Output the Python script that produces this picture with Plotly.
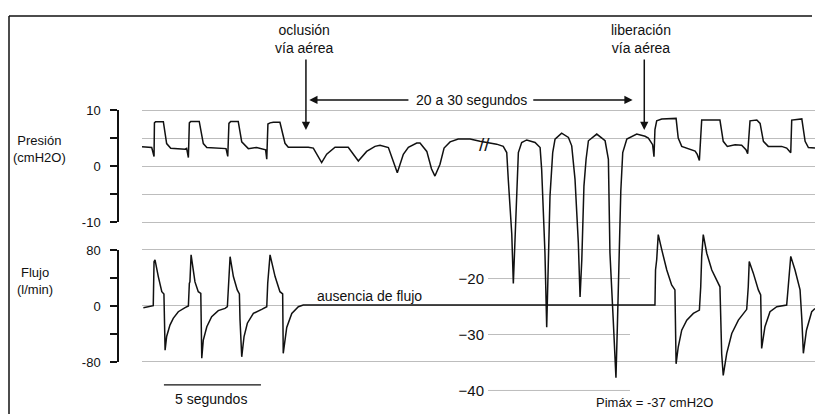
import plotly.graph_objects as go

W, H = 815, 414

# ---------------- data (time in s, pressure in cmH2O, flow in l/min) ----------------
PRES_T = [0.00, 0.50, 0.62, 0.64, 0.70, 1.10, 1.27, 1.48,
          2.22, 2.30, 2.39, 2.44, 2.51, 2.95, 3.16, 3.34,
          4.33, 4.42, 4.48, 4.57, 4.96, 5.14, 5.48, 5.91,
          6.37, 6.43, 6.49, 6.60, 6.77, 7.11, 7.37, 7.54,
          8.57, 8.83, 9.26, 9.52, 9.95,
          10.63, 11.15, 11.58, 12.01, 12.27,
          12.70, 12.94, 13.16, 13.47, 13.73,
          14.16, 14.33, 14.68, 14.92, 15.10,
          15.36, 15.57, 15.88, 16.30, 16.91,
          17.42, 17.85, 18.28, 18.62,
          18.80, 18.88, 18.97, 19.06, 19.14, 19.23, 19.32, 19.40,
          19.57, 19.83, 20.26, 20.52,
          20.60, 20.69, 20.77, 20.86, 20.94, 21.03, 21.17,
          21.29, 21.63, 21.98, 22.15,
          22.32, 22.49, 22.58, 22.67, 22.78, 22.89,
          23.01, 23.44, 23.87, 24.04,
          24.12, 24.29, 24.43, 24.50, 24.60, 24.68, 24.78,
          24.99, 25.50, 25.93, 26.10, 26.32, 26.39,
          26.44, 26.53, 26.79, 27.53,
          27.64, 27.82, 28.16, 28.51, 28.62, 28.73,
          28.85, 29.79, 29.96, 30.17, 30.57, 30.91, 31.13, 31.22,
          31.34, 31.69, 31.86, 32.03, 32.28, 32.97, 33.23, 33.44,
          33.49, 34.01, 34.18, 34.35, 34.69]
PRES_V = [3.45, 3.3, 1.7, 7.7, 7.9, 7.9, 4.0, 3.15,
          3.0, 3.15, 1.5, 7.7, 7.95, 7.95, 4.0, 3.3,
          3.1, 1.7, 7.6, 7.95, 7.95, 4.3, 3.1, 3.3,
          2.9, 1.2, 7.5, 7.7, 7.8, 7.8, 4.05, 3.35,
          3.35, 3.2, 0.6, 2.1, 3.35,
          3.35, 0.9, 2.6, 3.5, 3.7,
          3.3, 1.0, -1.2, 2.1, 3.35,
          4.1, 4.1, 2.6, -0.5, -1.8,
          0.3, 3.2, 4.3, 4.8, 4.8,
          4.4, 4.1, 3.9, 3.5,
          2.4, -2.4, -6.6, -12.2, -21.0, -12.5, -6.5, 2.4,
          4.2, 4.65, 4.2, 3.3,
          -0.6, -8.4, -15.5, -28.8, -15.5, -5.4, 2.4,
          4.8, 5.85, 5.1, 3.6,
          -2.4, -13.7, -23.4, -16.7, -3.6, 1.2,
          4.5, 5.7, 4.5, 1.2,
          -15.5, -27.5, -37.8, -29.0, -16.5, -4.5, 2.4,
          4.8, 5.7, 5.3, 5.0, 3.8, 1.65,
          6.5, 8.06, 8.4, 8.5,
          5.0, 3.5, 3.06, 2.65, 2.06, 1.0,
          8.2, 8.2, 4.4, 3.5, 3.8, 3.7, 2.9, 2.2,
          8.06, 8.2, 7.6, 4.4, 3.5, 3.5, 3.2, 2.35,
          8.2, 8.4, 4.4, 3.3, 3.2]

FLOW_T = [0.07, 0.41, 0.58, 0.62, 0.67, 0.84, 1.02, 1.13, 1.16, 1.19,
          1.27, 1.44, 1.61, 1.87, 2.22, 2.39, 2.44, 2.47, 2.53, 2.73,
          2.90, 3.03, 3.08, 3.16, 3.34, 3.59, 3.93, 4.28, 4.40, 4.45,
          4.54, 4.71, 4.91, 5.02, 5.05, 5.14, 5.26, 5.43, 5.74, 6.17,
          6.43, 6.48, 6.60, 6.86, 7.11, 7.25, 7.28, 7.46, 7.72, 8.06,
          8.31, 26.44, 26.47, 26.53, 26.61, 26.79, 27.05, 27.30, 27.47, 27.53,
          27.64, 27.82, 28.08, 28.42, 28.73, 28.80, 28.85, 28.93, 29.11, 29.37,
          29.71, 29.79, 29.88, 29.96, 30.14, 30.40, 30.74, 31.08, 31.17, 31.25,
          31.30, 31.51, 31.77, 31.89, 31.94, 32.11, 32.37, 32.72, 33.23, 33.31,
          33.44, 33.66, 33.92, 34.01, 34.09, 34.25, 34.52, 34.69]
FLOW_V = [-3.8, -1.4, -1.0, 62, 64.5, 40.6, 19, 15.8, -20, -64.5,
          -45, -28.7, -19, -9.6, -3.8, -1.4, 31, 33, 71.6, 33,
          19, 16.7, -76, -50, -31, -16.7, -8, -4.8, -2.4, 31,
          69, 40.6, 21.5, 15.8, -20, -74, -45, -26, -12, -6.2,
          -2.4, 31, 71.6, 40.6, 19, 15.8, -69, -32, -12, -2.4,
          0, 0, 50, 64.7, 100.6, 79, 50, 28.7, 21.6, -84,
          -60, -36, -21.6, -12, -7.2, 26, 69.5, 100.6, 74, 50,
          28.7, 26, -70, -100.6, -69, -40.7, -21.6, -9.6, -6.2, 26,
          62, 45.5, 21.6, 14.4, -62, -31, -9.6, -2.4, 0, 26,
          69.5, 50, 21.6, -20, -69, -36, -9.6, -5]

assert len(PRES_T) == len(PRES_V)
assert len(FLOW_T) == len(FLOW_V)

PRES_TICKS = [-10, -5, 0, 5, 10]
PRES_TICKTEXT = ["-10", "", "0", "", "10"]
PRES_EXT_TICKS = [-20, -30, -40]
FLOW_TICKS = [-80, 0, 80]
FLOW_TICKTEXT = ["-80", "0", "80"]
FLOW_MINOR_TICKS = [-40, 40]

SCALE_BAR_START = 1.13   # s
SCALE_BAR_LEN = 5        # s  ("5 segundos")
SCALE_BAR_LEVEL = -39.1  # drawn on the pressure scale
PIMAX = -37

# ---------------- styling / geometry ----------------
FONT = "Liberation Sans, Arial, sans-serif"
INK = "#111111"
GRID = "#bdbdbd"

T_RANGE = [-7.32, 34.69]
P_RANGE = [-44.29, 29.64]
F_RANGE = [-155.7, 435.7]


def grid_trace(levels, xa, ya):
    """Horizontal reference lines across a grid subplot, one per tick level."""
    xs, ys = [], []
    for v in levels:
        xs += [0, 1, None]
        ys += [v, v, None]
    return go.Scatter(x=xs, y=ys, xaxis=xa, yaxis=ya, mode="lines",
                      line=dict(color=GRID, width=1), showlegend=False,
                      hoverinfo="skip")


fig = go.Figure()

# axis-display subplots (empty) and grid subplots, all drawn beneath the data subplot
fig.add_trace(go.Scatter(x=[None], y=[None], xaxis="x", yaxis="y", mode="lines",
                         showlegend=False, hoverinfo="skip"))
fig.add_trace(go.Scatter(x=[None], y=[None], xaxis="x", yaxis="y2", mode="lines",
                         showlegend=False, hoverinfo="skip"))
fig.add_trace(grid_trace(PRES_TICKS, "x", "y6"))
fig.add_trace(grid_trace(FLOW_TICKS, "x", "y7"))
fig.add_trace(grid_trace(PRES_EXT_TICKS, "x2", "y3"))

fig.add_trace(go.Scatter(x=PRES_T, y=PRES_V, xaxis="x3", yaxis="y4", mode="lines",
                         line=dict(color=INK, width=1.5), name="Presión",
                         showlegend=False))
fig.add_trace(go.Scatter(x=FLOW_T, y=FLOW_V, xaxis="x3", yaxis="y5", mode="lines",
                         line=dict(color=INK, width=1.5), name="Flujo",
                         showlegend=False))
fig.add_trace(go.Scatter(x=[SCALE_BAR_START, SCALE_BAR_START + SCALE_BAR_LEN],
                         y=[SCALE_BAR_LEVEL, SCALE_BAR_LEVEL],
                         xaxis="x3", yaxis="y4", mode="lines",
                         line=dict(color=INK, width=1.3), showlegend=False,
                         hoverinfo="skip"))

hidden = dict(visible=False, showgrid=False, zeroline=False, automargin=False, fixedrange=True)
tickstyle = dict(showline=True, linecolor=INK, linewidth=1.5, ticks="outside", ticklen=7,
                 tickwidth=1.5, tickcolor=INK, zeroline=False, automargin=False,
                 fixedrange=True, showgrid=False,
                 tickfont=dict(family=FONT, size=13, color=INK), ticklabelstandoff=7)

# grid subplots are offset half a pixel so the 1px reference lines render crisp
fig.update_layout(
    width=W, height=H, autosize=False,
    margin=dict(l=0, r=0, t=0, b=0, pad=0),
    paper_bgcolor="white", plot_bgcolor="rgba(0,0,0,0)",
    showlegend=False,
    font=dict(family=FONT, size=13, color=INK),
    xaxis=dict(domain=[142 / W, 1], range=[0, 1], anchor="y", **hidden),
    yaxis=dict(domain=[(H - 222) / H, (H - 110) / H], range=[-10, 10],
               anchor="free", position=118 / W,
               tickmode="array", tickvals=PRES_TICKS, ticktext=PRES_TICKTEXT, **tickstyle),
    yaxis2=dict(domain=[(H - 362) / H, (H - 250) / H], range=[-80, 80],
                anchor="free", position=118 / W,
                tickmode="array", tickvals=FLOW_TICKS, ticktext=FLOW_TICKTEXT,
                minor=dict(tickmode="array", tickvals=FLOW_MINOR_TICKS, ticks="outside",
                           ticklen=7, tickwidth=1.5, tickcolor=INK, showgrid=False),
                **tickstyle),
    yaxis6=dict(domain=[(H - 228.5) / H, (H - 104.5) / H],
                range=[-(228 - 166) / 5.6, (166 - 104) / 5.6], anchor="x", **hidden),
    yaxis7=dict(domain=[(H - 368.5) / H, (H - 244.5) / H],
                range=[-(368 - 305) / 0.7, (305 - 244) / 0.7], anchor="x", **hidden),
    xaxis2=dict(domain=[488 / W, 630 / W], range=[0, 1], anchor="y3", **hidden),
    yaxis3=dict(domain=[(H - 392.5) / H, (H - 276.5) / H], range=[-40.36, -19.64],
                anchor="x2", tickmode="array", tickvals=PRES_EXT_TICKS,
                showline=False, ticks="", showgrid=False,
                zeroline=False, automargin=False, fixedrange=True,
                tickfont=dict(family=FONT, size=15, color=INK), ticklabelstandoff=3),
    xaxis3=dict(domain=[0, 1], range=T_RANGE, anchor="y4", **hidden),
    yaxis4=dict(domain=[0, 1], range=P_RANGE, anchor="x3", **hidden),
    yaxis5=dict(range=F_RANGE, anchor="x3", overlaying="y4", **hidden),
)

ann = []
def label(text, x, y, size=14, yref="y4"):
    ann.append(dict(text=text, x=x, y=y, xref="x3", yref=yref, showarrow=False,
                    font=dict(family=FONT, size=size, color=INK), align="center"))

def arrow(x, y, ax, ay):
    ann.append(dict(text="", x=x, y=y, ax=ax, ay=ay, xref="x3", yref="y4",
                    axref="x3", ayref="y4", showarrow=True, arrowhead=2, arrowsize=1.1,
                    arrowwidth=1.5, arrowcolor=INK, standoff=0, startstandoff=0))

label("oclusión<br>vía aérea", 8.40, 22.7)
arrow(8.45, 6.43, 8.45, 19.3)
label("liberación<br>vía aérea", 25.72, 22.7)
arrow(25.89, 6.43, 25.89, 19.3)
label("20 a 30 segundos", 16.96, 11.8)
arrow(8.62, 11.8, 13.81, 11.8)
arrow(25.29, 11.8, 20.09, 11.8)
label("ausencia de flujo", 11.75, 13, yref="y5")
label("//", 17.65, 3.9, size=19)
label("5 segundos", 3.55, -41.6)
label(f"Pimáx = {PIMAX} cmH2O", 26.44, -42.3, size=13)
label("Presión<br>(cmH2O)", -5.26, 3.0, size=13)
label("Flujo<br>(l/min)", -5.5, 34.3, size=13, yref="y5")

fig.update_layout(
    annotations=ann,
    shapes=[
        dict(type="line", xref="paper", yref="paper", x0=9 / W, x1=812 / W,
             y0=(H - 16) / H, y1=(H - 16) / H, line=dict(color=INK, width=1.5)),
        dict(type="line", xref="paper", yref="paper", x0=9 / W, x1=9 / W,
             y0=0, y1=(H - 16) / H, line=dict(color=INK, width=1.5)),
    ],
)

fig.write_html("out.html", config={"displayModeBar": False},
               post_script="document.body.style.margin='0';document.body.style.padding='0';")
